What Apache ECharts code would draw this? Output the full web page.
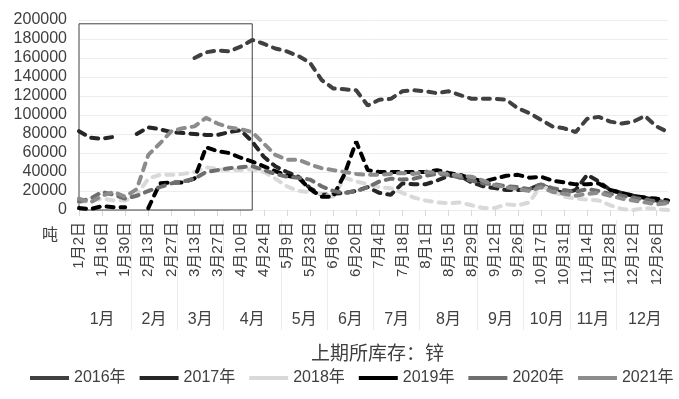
<!DOCTYPE html>
<html>
<head>
<meta charset="utf-8">
<script src="https://cdn.jsdelivr.net/npm/echarts@6/dist/echarts.min.js"></script>
<style>
  html, body { margin: 0; padding: 0; background: #fff; }
  #chart { width: 679px; height: 399px; }
</style>
</head>
<body>
<div id="chart"></div>
<script>
// 周度日期（每隔一个显示标签）
const dates = ['1月2日','1月9日','1月16日','1月23日','1月30日','2月6日','2月13日','2月20日','2月27日',
  '3月6日','3月13日','3月20日','3月27日','4月3日','4月10日','4月17日','4月24日','4月30日',
  '5月9日','5月16日','5月23日','5月30日','6月6日','6月13日','6月20日','6月27日',
  '7月4日','7月11日','7月18日','7月25日','8月1日','8月8日','8月15日','8月22日','8月29日',
  '9月5日','9月12日','9月19日','9月26日','10月10日','10月17日','10月24日','10月31日',
  '11月7日','11月14日','11月21日','11月28日','12月5日','12月12日','12月19日','12月26日','12月31日']

// 月份分组（每月包含的周数）
const months = ['1月','2月','3月','4月','5月','6月','7月','8月','9月','10月','11月','12月']
const monthWeeks = [5, 4, 4, 5, 4, 4, 4, 5, 4, 4, 4, 5]

const years = ['2016年','2017年','2018年','2019年','2020年','2021年']

const s2016 = [null,null,null,null,null,null,null,null,null,null,
  160000,166000,168000,167000,172000,179000,175000,170000,167000,162000,
  155000,137000,128000,127000,126000,110000,116000,117000,125000,126000,
  125000,123000,125000,121000,117000,117000,117000,116000,107000,102000,
  95000,88000,86000,82000,96000,98000,93000,91000,93000,99000,
  88000,82000]

const s2017 = [83000,76000,75000,77000,null,80000,87000,85000,82000,81000,
  80000,79000,79000,82000,84000,72000,56000,46000,40000,35000,
  23000,16000,17000,18000,20000,24000,18000,16000,28000,27000,
  27000,31000,36000,36000,29000,25000,23000,21000,21000,22000,
  27000,21000,18000,21000,37000,30000,21000,18000,15000,13000,
  10000,7000]

const s2018 = [8000,10000,12000,10000,10000,16000,33000,37000,37000,38000,
  40000,45000,43000,42000,42000,43000,40000,33000,25000,20000,
  19000,17000,14000,34000,30000,27000,24000,23000,18000,13000,
  10000,8000,7000,8000,5000,2000,2000,6000,5000,8000,
  26000,20000,14000,12000,11000,10000,5000,1000,0,2000,
  1000,0]

const s2019 = [2000,1000,4000,3000,3000,null,2000,28000,29000,29000,
  33000,66000,62000,60000,55000,51000,46000,41000,36000,34000,
  22000,14000,14000,38000,72000,42000,40000,40000,40000,40000,
  40000,42000,39000,37000,33000,30000,33000,36000,37000,34000,
  35000,31000,29000,27000,27000,28000,21000,18000,15000,13000,
  12000,10000]

const s2020 = [9000,12000,19000,16000,12000,15000,20000,24000,28000,30000,
  33000,40000,42000,44000,45000,46000,42000,38000,35000,34000,
  32000,25000,20000,18000,20000,24000,30000,33000,32000,33000,
  36000,38000,37000,34000,31000,28000,27000,25000,24000,22000,
  27000,23000,21000,19000,22000,20000,17000,15000,13000,11000,
  9000,8000]

const s2021 = [12000,8000,15000,19000,14000,22000,58000,70000,83000,86000,
  88000,97000,91000,87000,85000,82000,70000,58000,53000,53000,
  48000,44000,42000,40000,38000,37000,37000,38000,39000,38000,
  40000,39000,38000,36000,35000,31000,26000,24000,22000,20000,
  24000,19000,17000,15000,17000,18000,15000,12000,10000,8000,
  6000,7000]

const yTicks = { min: 0, max: 200000, step: 20000 }

// 图中的方框范围
const boxFrom = '1月2日'
const boxTo = '4月17日'
const boxTop = 196000

const FONT = '"Liberation Sans", "Noto Sans CJK SC", sans-serif'
const colors = ['#404040', '#262626', '#d9d9d9', '#000000', '#6e6e6e', '#8c8c8c']

// 月份轴：以"周序号"为单位的数值轴，与日期轴对齐
const monthCenters = []
const monthBounds = []
const centerName = {}
let start = 0
monthWeeks.forEach((n, i) => {
  const c = start + (n - 1) / 2
  monthCenters.push(c)
  centerName[c] = months[i]
  start += n
  if (i < monthWeeks.length - 1) monthBounds.push(start - 0.5)
})

const chart = echarts.init(document.getElementById('chart'))

const allSeries = [s2016, s2017, s2018, s2019, s2020, s2021].map((d, i) => {
  const s = {
    name: years[i],
    type: 'line',
    data: d,
    symbol: 'none',
    lineStyle: { width: 4, type: [7, 7], cap: 'round', color: colors[i] },
    itemStyle: { color: colors[i] }
  }
  if (i === 0) {
    s.markArea = {
      silent: true,
      itemStyle: { color: 'rgba(0,0,0,0)', borderColor: '#404040', borderWidth: 1 },
      data: [[{ xAxis: boxFrom, yAxis: boxTop }, { xAxis: boxTo, yAxis: yTicks.min }]]
    }
  }
  return s
})

chart.setOption({
  animation: false,
  textStyle: { fontFamily: FONT },
  title: {
    text: '上期所库存：锌',
    left: 306,
    top: 340,
    textStyle: { fontSize: 19, fontWeight: 'normal', color: '#404040', fontFamily: FONT }
  },
  legend: {
    data: years,
    left: 25,
    bottom: 8,
    icon: 'rect',
    itemWidth: 39,
    itemHeight: 4,
    itemGap: 14,
    textStyle: { fontSize: 16, color: '#404040', fontFamily: FONT }
  },
  grid: { left: 79, right: 11, top: 20, bottom: 189 },
  xAxis: [{
    type: 'category',
    data: dates,
    boundaryGap: false,
    axisLine: { show: false },
    axisTick: { show: true, interval: 1, length: 6, lineStyle: { color: '#d9d9d9' } },
    axisLabel: { interval: 1, rotate: 90, fontSize: 15, color: '#404040', margin: 12 }
  }, {
    type: 'value',
    min: 0,
    max: dates.length - 1,
    position: 'bottom',
    offset: 120,
    axisLine: { show: false },
    axisTick: {
      show: true, inside: true, length: 110,
      customValues: monthBounds,
      lineStyle: { color: '#ececec' }
    },
    axisLabel: {
      inside: true, margin: 2, fontSize: 16, color: '#404040',
      customValues: monthCenters,
      formatter: (v) => centerName[v] || ''
    },
    splitLine: { show: false }
  }],
  yAxis: {
    type: 'value',
    min: yTicks.min,
    max: yTicks.max,
    interval: yTicks.step,
    name: '吨',
    nameLocation: 'start',
    nameGap: 18,
    nameTextStyle: { fontSize: 16, color: '#404040', align: 'right', padding: [0, 21, 0, 0] },
    axisLine: { show: false },
    axisTick: { show: false },
    axisLabel: { fontSize: 16, color: '#404040', margin: 12, formatter: (v) => String(v) },
    splitLine: { lineStyle: { color: '#ececec' } }
  },
  series: allSeries
})
</script>
</body>
</html>
